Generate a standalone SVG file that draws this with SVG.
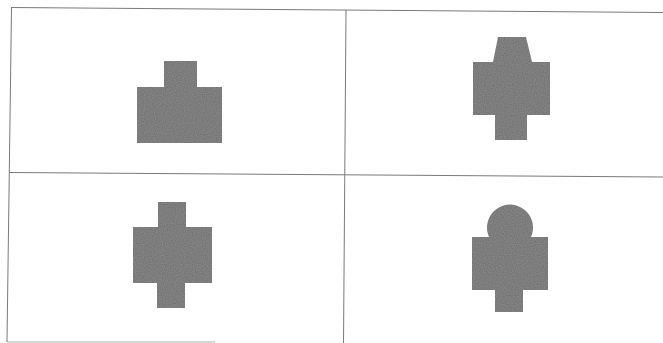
<svg xmlns="http://www.w3.org/2000/svg" width="663" height="343" viewBox="0 0 663 343">
<style>
.frame{stroke:#7a7a7a;stroke-width:1;fill:none}
.shape{fill:#858585}
</style>
<defs>
<filter id="grain" x="0" y="0" width="100%" height="100%">
<feTurbulence type="fractalNoise" baseFrequency="0.9" numOctaves="1" seed="3" result="n"/>
<feColorMatrix in="n" type="matrix" values="0 0 0 0 0.5  0 0 0 0 0.5  0 0 0 0 0.5  0 0 0 1.2 -0.35" result="g"/>
<feComposite in="g" in2="SourceGraphic" operator="in" result="gi"/>
<feBlend in="SourceGraphic" in2="gi" mode="multiply"/>
</filter>
</defs>
<rect width="663" height="343" fill="#ffffff"/>
<g id="frame">
<line class="frame" x1="11" y1="7.5" x2="663" y2="12.5"/>
<line class="frame" x1="11.5" y1="7.5" x2="7" y2="342"/>
<line class="frame" x1="346" y1="10" x2="343.5" y2="343"/>
<line class="frame" x1="9.5" y1="172.5" x2="663" y2="177"/>
<line class="frame" x1="7" y1="342" x2="215" y2="342" stroke-opacity="0.6"/>
</g>
<g id="shape-tl" filter="url(#grain)">
<path class="shape" d="M164,61 H197 V87 H222 V143 H137 V87 H164 Z"/>
</g>
<g id="shape-tr" filter="url(#grain)">
<path class="shape" d="M498,37 H526 L532,62 H550 V115 H527 V140 H495 V115 H473 V62 H493 Z"/>
</g>
<g id="shape-bl" filter="url(#grain)">
<path class="shape" d="M158,202 H186 V227 H212 V283 H185 V308 H157 V283 H133 V227 H158 Z"/>
</g>
<g id="shape-br" filter="url(#grain)">
<path class="shape" d="M489,237 A23,23 0 1 1 531,237 H548 V290 H523 V312 H495 V290 H472 V237 Z"/>
</g>
</svg>
